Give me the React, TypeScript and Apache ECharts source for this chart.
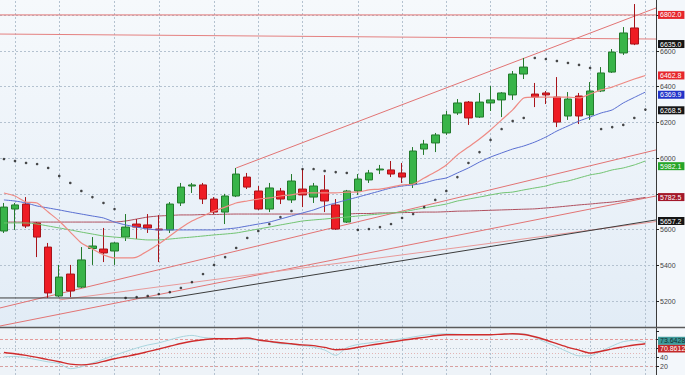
import React, { useEffect, useRef } from "react";
import * as echarts from "echarts";

// ---- candles (58 sessions) ----
const candleOpen = [5592, 5715, 5743, 5637, 5502, 5228, 5351, 5278, 5494, 5491, 5480, 5558, 5631, 5626, 5603, 5598, 5749, 5844, 5850, 5771, 5698, 5788, 5894, 5816, 5715, 5816, 5766, 5827, 5782, 5822, 5738, 5642, 5816, 5878, 5934, 5934, 5917, 5855, 6051, 6085, 6141, 6253, 6314, 6230, 6309, 6326, 6354, 6471, 6359, 6365, 6342, 6236, 6348, 6242, 6376, 6482, 6589, 6729];
const candleClose = [5726, 5738, 5620, 5558, 5245, 5334, 5256, 5430, 5508, 5469, 5525, 5614, 5614, 5609, 5598, 5743, 5838, 5850, 5771, 5698, 5788, 5911, 5838, 5715, 5833, 5771, 5872, 5794, 5844, 5760, 5603, 5816, 5883, 5917, 5939, 5911, 5894, 6040, 6079, 6130, 6242, 6309, 6225, 6314, 6326, 6365, 6471, 6510, 6342, 6354, 6202, 6331, 6236, 6376, 6477, 6594, 6701, 6639];
const candleLow = [5581, 5598, 5609, 5446, 5217, 5222, 5222, 5273, 5402, 5418, 5402, 5536, 5547, 5581, 5418, 5581, 5732, 5805, 5743, 5687, 5631, 5782, 5827, 5709, 5698, 5743, 5749, 5726, 5749, 5698, 5598, 5637, 5794, 5861, 5911, 5894, 5861, 5833, 6018, 6034, 6130, 6242, 6186, 6225, 6264, 6230, 6326, 6443, 6286, 6303, 6174, 6214, 6191, 6214, 6370, 6477, 6578, 6633];
const candleHigh = [5749, 5749, 5782, 5642, 5525, 5402, 5402, 5502, 5558, 5609, 5530, 5687, 5659, 5687, 5681, 5754, 5861, 5861, 5861, 5782, 5800, 5945, 5917, 5844, 5861, 5833, 5911, 5939, 5861, 5905, 5771, 5822, 5911, 5934, 5962, 5984, 5973, 6062, 6102, 6141, 6264, 6331, 6320, 6365, 6404, 6370, 6488, 6561, 6421, 6376, 6454, 6370, 6365, 6426, 6510, 6611, 6734, 6863];

// ---- indicators (59 points, one step beyond the last candle) ----
const sarValues = [5995, 5984, 5973, 5967, 5945, 5900, 5861, 5816, 5782, 5749, 5715, 5217, 5222, 5228, 5239, 5250, 5273, 5306, 5351, 5402, 5446, 5497, 5553, 5592, 5631, 5670, 5704, 5939, 5939, 5928, 5922, 5917, 5598, 5603, 5614, 5631, 5665, 5687, 5726, 5766, 5816, 5894, 5973, 6034, 6102, 6163, 6208, 6225, 6561, 6555, 6544, 6533, 6522, 6505, 6163, 6174, 6186, 6225, 6272];
const maFast = [5805, 5788, 5754, 5749, 5698, 5648, 5586, 5525, 5491, 5458, 5441, 5441, 5446, 5480, 5519, 5564, 5609, 5648, 5676, 5704, 5726, 5749, 5760, 5771, 5777, 5788, 5794, 5805, 5805, 5805, 5805, 5810, 5810, 5822, 5827, 5838, 5850, 5855, 5889, 5922, 5962, 6018, 6062, 6107, 6158, 6214, 6270, 6337, 6342, 6342, 6342, 6342, 6337, 6359, 6382, 6398, 6421, 6443, 6463];
const maMid = [5766, 5760, 5749, 5732, 5721, 5710, 5698, 5687, 5676, 5665, 5642, 5626, 5614, 5603, 5598, 5598, 5598, 5598, 5598, 5598, 5603, 5609, 5620, 5631, 5642, 5659, 5676, 5693, 5710, 5732, 5749, 5766, 5782, 5799, 5816, 5833, 5844, 5850, 5861, 5878, 5889, 5917, 5945, 5978, 6006, 6029, 6051, 6068, 6090, 6118, 6152, 6180, 6208, 6230, 6253, 6270, 6309, 6340, 6370];
const maSlow = [5637, 5637, 5637, 5631, 5620, 5609, 5598, 5586, 5575, 5564, 5558, 5553, 5547, 5542, 5542, 5547, 5553, 5558, 5564, 5570, 5575, 5581, 5592, 5603, 5614, 5626, 5637, 5648, 5654, 5659, 5665, 5670, 5676, 5682, 5687, 5693, 5698, 5710, 5721, 5732, 5743, 5760, 5771, 5782, 5794, 5805, 5810, 5822, 5833, 5844, 5861, 5872, 5889, 5906, 5917, 5934, 5945, 5962, 5984];
const maLong = [5642, 5642, 5642, 5642, 5642, 5642, 5642, 5642, 5642, 5642, 5642, 5648, 5659, 5670, 5676, 5679, 5682, 5682, 5684, 5684, 5686, 5687, 5687, 5687, 5687, 5687, 5687, 5687, 5687, 5687, 5687, 5687, 5690, 5690, 5693, 5693, 5695, 5696, 5698, 5698, 5700, 5703, 5704, 5706, 5708, 5710, 5712, 5714, 5716, 5721, 5726, 5732, 5738, 5743, 5749, 5754, 5762, 5771, 5780];
const stochK = [41.0, 41.9, 38.9, 34.4, 29.7, 26.0, 14.3, 18.6, 27.2, 35.8, 44.6, 53.0, 61.1, 67.9, 72.7, 79.7, 86.3, 89.7, 85.1, 83.1, 82.7, 81.7, 80.4, 79.3, 75.2, 70.9, 69.3, 66.8, 63.0, 56.6, 44.6, 62.0, 69.1, 72.5, 76.1, 79.3, 82.0, 86.1, 90.1, 92.4, 93.3, 92.4, 91.3, 91.3, 91.3, 91.7, 92.8, 93.1, 84.9, 74.0, 63.6, 52.3, 43.3, 43.5, 54.3, 65.7, 75.6, 78.4, 73.1];
const stochD = [51.0, 48.2, 44.4, 39.9, 34.9, 29.9, 24.5, 22.9, 25.1, 30.8, 36.9, 41.9, 46.9, 52.8, 58.9, 65.2, 71.3, 76.3, 79.9, 82.2, 82.2, 82.4, 83.8, 79.3, 76.1, 73.1, 70.7, 68.2, 66.6, 62.5, 57.3, 58.4, 62.7, 67.0, 70.9, 74.7, 78.4, 82.2, 85.1, 88.8, 91.3, 91.3, 91.3, 91.3, 91.3, 92.4, 93.3, 91.7, 86.5, 79.3, 70.9, 62.7, 56.4, 49.8, 53.7, 59.1, 63.6, 67.9, 70.9];

// ---- axes / drawn levels ----
const priceTicks = [5200, 5400, 5600, 5800, 6000, 6200, 6400, 6600, 6800];
const priceLabels = [5200, 5400, 5600, 6000, 6200, 6400, 6600];
const oscTicks = [20, 40, 60, 80, 100];
const oscLabels = [20, 40];
const periodStarts = [1, 5, 10, 14, 19, 23, 27, 32, 36, 40, 44, 49, 53, 58];
const resistanceLevel = 6802;
const upperChannel = [[21, 5945], [58.96, 6841]];
const flatTopLine = [[-0.36, 6695], [58.96, 6667]];
const channelA = [[-0.36, 5161], [58.96, 6046]];
const channelB = [[-0.36, 5060], [58.96, 5788]];
const supportLine = [[-0.36, 5217], [15, 5217], [58.96, 5654]];
const supportTwin = [[5, 5206], [58.96, 5645]];
const priceTagValues = [6802, 6639, 6463, 6355, 6268, 5955, 5782, 5648];
const priceTagTexts = ["6802.0", "6635.0", "6462.8", "6369.9", "6268.5", "5982.1", "5782.5", "5657.2"];
const priceTagColors = ["#e6262c", "#151515", "#e6262c", "#2233c8", "#151515", "#25a528", "#a3182a", "#151515"];
const oscTagValues = [60, 77.5];
const oscTagTexts = ["70.8612", "73.6428"];
const oscTagColors = ["#c42a2a", "#3f9a9a"];

const X_MIN = -0.356;
const X_MAX = 58.96;
const FONT = "Liberation Sans, Arial, sans-serif";

function buildOption(): any {
  const idx = (arr: number[]) => arr.map((v, i) => [i, v]);
  const candles = candleOpen.map((o, i) => [i, o, candleClose[i], candleLow[i], candleHigh[i]]);
  const trend = (data: number[][], color: string, width = 1) => ({
    type: "line",
    xAxisIndex: 0,
    yAxisIndex: 0,
    data,
    showSymbol: false,
    silent: true,
    z: 2,
    lineStyle: { color, width },
  });
  const tag = (value: number, text: string, color: string, textColor = "#fff") => ({
    yAxis: value,
    lineStyle: { color: "rgba(0,0,0,0)", width: 0 },
    label: {
      show: true,
      position: "end",
      distance: 2,
      formatter: text,
      backgroundColor: color,
      color: textColor,
      fontSize: 7,
      fontFamily: FONT,
      padding: [1, 3, 0, 2],
      lineHeight: 7,
      opacity: 1,
    },
  });
  const xAx = (gridIndex: number) => ({
    type: "value",
    gridIndex,
    min: X_MIN,
    max: X_MAX,
    show: false,
    splitLine: { show: false },
  });

  return {
    animation: false,
    backgroundColor: "#f3f7fb",
    grid: [
      {
        left: 0, right: 29, top: 0, height: 327, show: true, borderWidth: 0,
        backgroundColor: {
          type: "linear", x: 0, y: 0, x2: 0, y2: 1,
          colorStops: [{ offset: 0, color: "#f6f9fc" }, { offset: 1, color: "#e2ecf6" }],
        },
      },
      { left: 0, right: 29, top: 327, height: 48, show: true, borderWidth: 0, backgroundColor: "#eef3f8" },
    ],
    xAxis: [xAx(0), xAx(1)],
    yAxis: [
      {
        type: "value", gridIndex: 0, position: "right", min: 5054.4, max: 6885.6,
        splitLine: { show: false },
        axisLine: { show: true, onZero: false, lineStyle: { color: "#3a3a3a", width: 1 } },
        axisTick: { show: true, length: 3, lineStyle: { color: "#222" }, customValues: priceTicks },
        axisLabel: {
          customValues: priceLabels, fontSize: 7, color: "#444", margin: 4, fontFamily: FONT,
          formatter: (v: number) => String(v),
        },
      },
      {
        type: "value", gridIndex: 1, position: "right", min: 0, max: 108.7,
        splitLine: { show: false },
        axisLine: { show: true, onZero: false, lineStyle: { color: "#3a3a3a", width: 1 } },
        axisTick: { show: true, length: 3, lineStyle: { color: "#222" }, customValues: oscTicks },
        axisLabel: {
          customValues: oscLabels, fontSize: 7, color: "#444", margin: 4, fontFamily: FONT,
          formatter: (v: number) => String(v),
        },
      },
    ],
    graphic: [
      { type: "line", z: 50, shape: { x1: 0, y1: 327.5, x2: 685, y2: 327.5 }, style: { stroke: "#5a5a5a", lineWidth: 1.5 } },
    ],
    series: [
      {
        ...trend(channelB, "#e27474"),
        markLine: {
          silent: true, symbol: ["none", "none"], z: 1, animation: false,
          label: { show: false },
          lineStyle: { color: "#b4c2d0", type: [2, 2], width: 1 },
          data: [
            ...priceTicks.map((v) => ({ yAxis: v })),
            ...periodStarts.map((x) => ({ xAxis: x })),
          ],
        },
      },
      trend(channelA, "#e27474"),
      trend(upperChannel, "#e27474"),
      trend(flatTopLine, "#e48080"),
      trend([[X_MIN, resistanceLevel], [X_MAX, resistanceLevel]], "#e27474"),
      trend(supportTwin, "#e89a9a"),
      trend(supportLine, "#3c3c3c"),
      {
        type: "line", data: idx(maLong), showSymbol: false, silent: true, z: 2,
        lineStyle: { color: "#b0505f", width: 1 }, smooth: 0.2,
      },
      {
        type: "candlestick",
        xAxisIndex: 0, yAxisIndex: 0,
        data: candles,
        barWidth: 8,
        z: 3,
        itemStyle: {
          color: "#38b449", color0: "#ee1c24",
          borderColor: "#237a2c", borderColor0: "#a8141a", borderWidth: 1,
        },
      },
      {
        type: "line", data: idx(maSlow), showSymbol: false, silent: true, z: 4, smooth: 0.2,
        lineStyle: { color: "#72c472", width: 1 },
      },
      {
        type: "line", data: idx(maMid), showSymbol: false, silent: true, z: 4, smooth: 0.2,
        lineStyle: { color: "#5a6fd2", width: 1 },
      },
      {
        type: "line", data: idx(maFast), showSymbol: false, silent: true, z: 4, smooth: 0.2,
        lineStyle: { color: "#ee8a84", width: 1.2 },
        markLine: {
          silent: true, symbol: ["none", "none"], z: 10, animation: false,
          data: priceTagValues.map((v, i) => tag(v, priceTagTexts[i], priceTagColors[i])),
        },
      },
      {
        type: "scatter", data: idx(sarValues), symbolSize: 2.6, silent: true, z: 5,
        itemStyle: { color: "#1a1a1a" },
      },
      {
        type: "line", xAxisIndex: 1, yAxisIndex: 1, data: idx(stochK), showSymbol: false, silent: true, z: 3,
        smooth: 0.3, lineStyle: { color: "#a9d5de", width: 1 },
        markLine: {
          silent: true, symbol: ["none", "none"], z: 1, animation: false,
          label: { show: false },
          data: [
            { yAxis: 80, lineStyle: { color: "#e49a9a", type: [3, 2], width: 1 } },
            { yAxis: 20, lineStyle: { color: "#d8a0a0", type: [3, 2], width: 1 } },
            { yAxis: 60, lineStyle: { color: "#b9c4cf", type: [1, 2], width: 1 } },
            { yAxis: 50, lineStyle: { color: "#e2b4b4", type: [1, 2], width: 1 } },
            { yAxis: 40, lineStyle: { color: "#b9c4cf", type: [1, 2], width: 1 } },
            ...periodStarts.map((x) => ({ xAxis: x, lineStyle: { color: "#b4c2d0", type: [2, 2], width: 1 } })),
          ],
        },
      },
      {
        type: "line", xAxisIndex: 1, yAxisIndex: 1, data: idx(stochD), showSymbol: false, silent: true, z: 4,
        smooth: 0.3, lineStyle: { color: "#d02c2c", width: 1.4 },
        markLine: {
          silent: true, symbol: ["none", "none"], z: 10, animation: false,
          data: oscTagValues.map((v, i) => tag(v, oscTagTexts[i], oscTagColors[i], i === 1 ? "#0e2e2e" : "#fff")),
        },
      },
    ],
  };
}

export default function App() {
  const ref = useRef<HTMLDivElement>(null);
  useEffect(() => {
    if (!ref.current) return;
    const chart = echarts.init(ref.current, undefined, { renderer: "svg" });
    chart.setOption(buildOption());
    return () => chart.dispose();
  }, []);
  return <div ref={ref} style={{ position: "fixed", left: 0, top: 0, width: 685, height: 375 }} />;
}
